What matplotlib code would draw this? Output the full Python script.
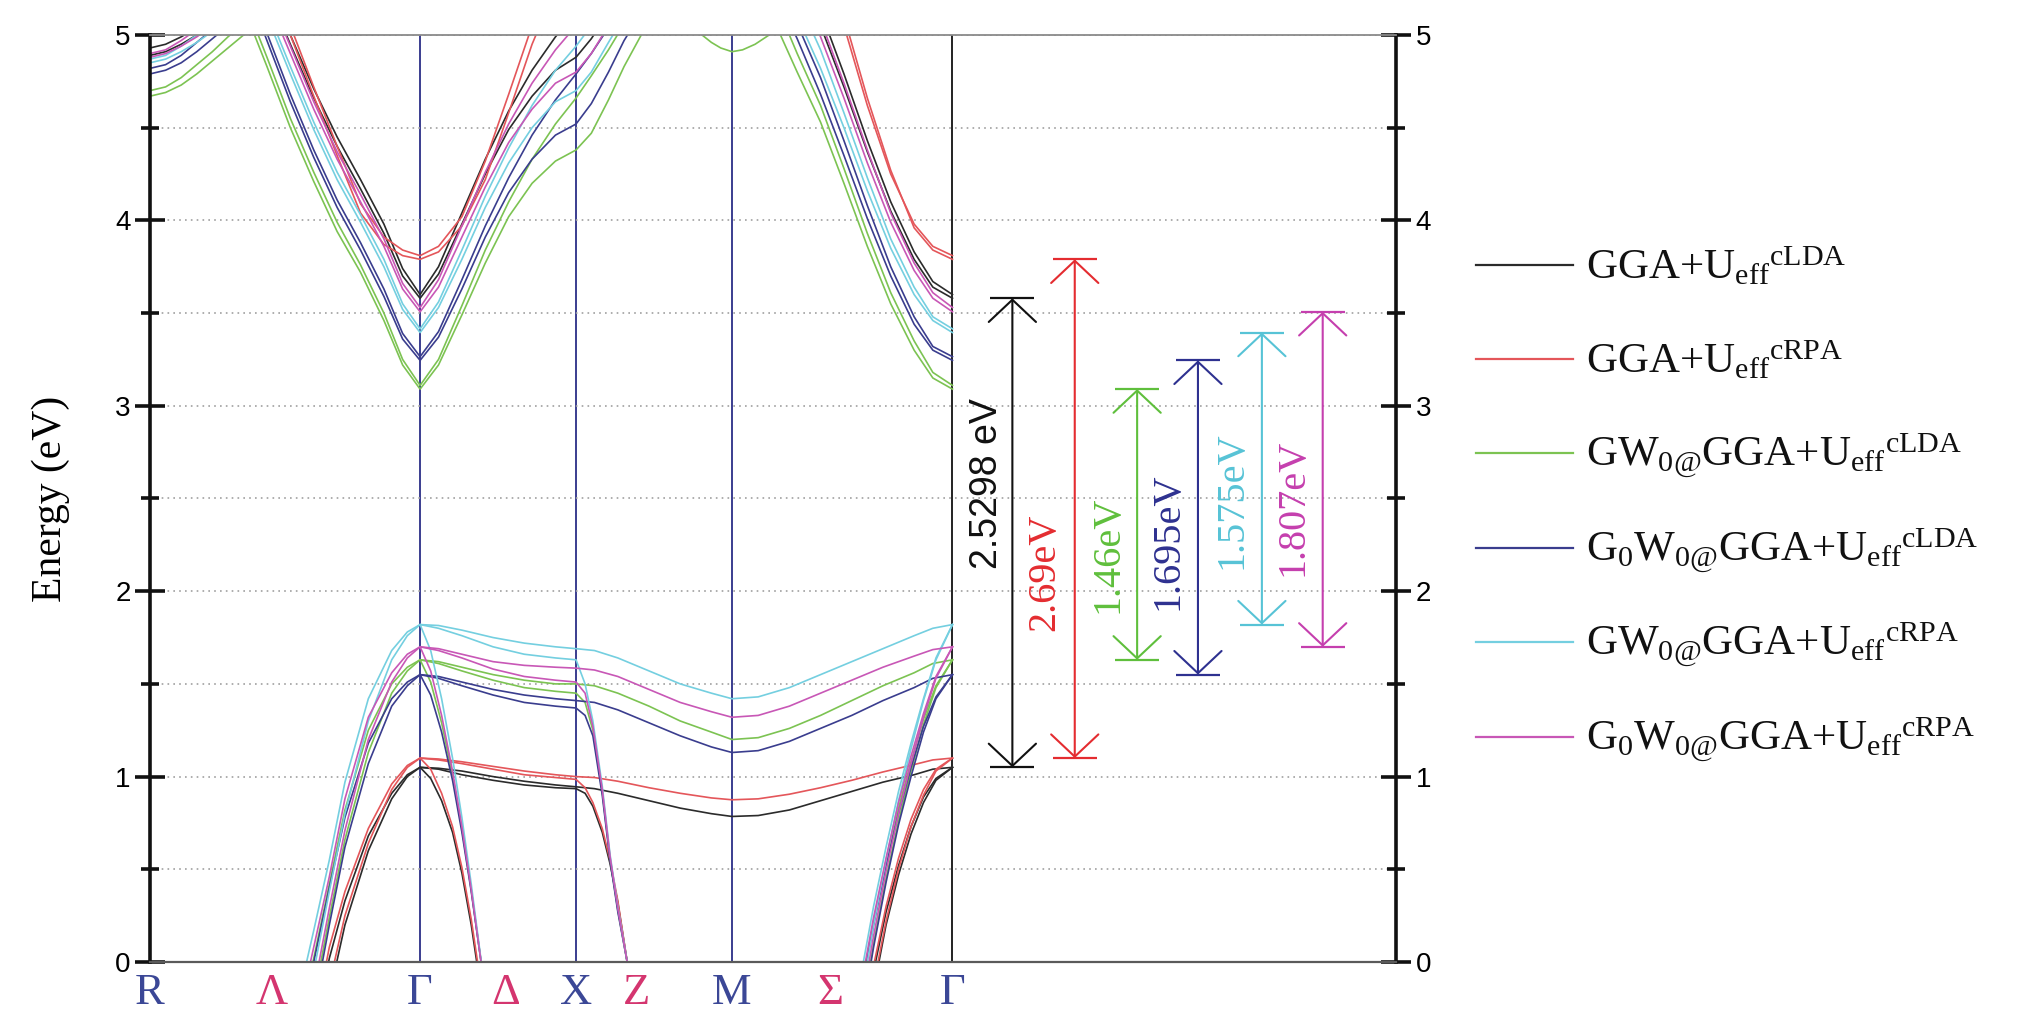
import matplotlib
matplotlib.use("Agg")
import matplotlib.pyplot as plt
from matplotlib.lines import Line2D
from matplotlib.ticker import MultipleLocator

plt.rcParams["mathtext.fontset"] = "custom"
plt.rcParams["mathtext.rm"] = "Liberation Serif"
plt.rcParams["mathtext.it"] = "Liberation Serif:italic"
plt.rcParams["mathtext.bf"] = "Liberation Serif:bold"

SERIF = ["Liberation Serif", "DejaVu Serif"]
SANS = ["Liberation Sans", "DejaVu Sans"]

# ---------------------------------------------------------------- methods
methods = [
    r"GGA+U$_{\mathrm{eff}}{}^{\mathrm{cLDA}}$",
    r"GGA+U$_{\mathrm{eff}}{}^{\mathrm{cRPA}}$",
    r"GW$_{\mathrm{0@}}$GGA+U$_{\mathrm{eff}}{}^{\mathrm{cLDA}}$",
    r"G$_{\mathrm{0}}$W$_{\mathrm{0@}}$GGA+U$_{\mathrm{eff}}{}^{\mathrm{cLDA}}$",
    r"GW$_{\mathrm{0@}}$GGA+U$_{\mathrm{eff}}{}^{\mathrm{cRPA}}$",
    r"G$_{\mathrm{0}}$W$_{\mathrm{0@}}$GGA+U$_{\mathrm{eff}}{}^{\mathrm{cRPA}}$",
]
band_colors = ["#2b2b2b", "#e4565a", "#7cc352", "#3a3d8e", "#74cfe0", "#c857b6"]
arrow_colors = ["#111111", "#e42c30", "#5fbf3c", "#2e3190", "#57c3d6", "#c53fae"]

# ---------------------------------------------------------------- k-path
kpath_labels = ["R", "Λ", "Γ", "Δ", "X", "Z", "M", "Σ", "Γ"]
kpath_pos = [0.0, 0.78, 1.732, 2.28, 2.732, 3.12, 3.732, 4.36, 5.146]
kpath_colors = ["#3b4796", "#d4356f", "#3b4796", "#d4356f", "#3b4796",
                "#d4356f", "#3b4796", "#d4356f", "#3b4796"]
node_k = [1.732, 2.732, 3.732]
node_end_k = 5.146
k_max = 7.99

# ---------------------------------------------------------------- gaps (eV)
vbm = [1.05, 1.10, 1.63, 1.55, 1.82, 1.70]
gap = [2.5298, 2.69, 1.46, 1.695, 1.575, 1.807]
arrow_k = [5.53, 5.93, 6.33, 6.72, 7.13, 7.52]
gap_text = ["2.5298 eV", "2.69eV", "1.46eV", "1.695eV", "1.575eV", "1.807eV"]
gap_label_y = [2.58, 2.10, 2.20, 2.27, 2.49, 2.45]

# ---------------------------------------------------------------- valence bands
# order of rows: black, red, green, blue, cyan, magenta
k_vb1 = [0.95, 1.05, 1.15, 1.25, 1.4, 1.55, 1.65, 1.732, 1.85, 2.0, 2.2, 2.4, 2.6,
         2.732, 2.85, 3.0, 3.2, 3.4, 3.6, 3.732, 3.9, 4.1, 4.3, 4.5, 4.7, 4.9,
         5.02, 5.146]
e_vb1 = [
    [-0.85, -0.4, 0.02, 0.33, 0.68, 0.91, 1.01, 1.05, 1.045, 1.03, 1.00, 0.975, 0.955,
     0.945, 0.935, 0.91, 0.87, 0.83, 0.80, 0.785, 0.79, 0.82, 0.87, 0.92, 0.97, 1.01,
     1.04, 1.05],
    [-0.8, -0.35, 0.08, 0.38, 0.72, 0.96, 1.06, 1.10, 1.095, 1.08, 1.055, 1.03, 1.01,
     1.00, 0.995, 0.975, 0.94, 0.91, 0.885, 0.875, 0.88, 0.905, 0.94, 0.98, 1.025, 1.065,
     1.09, 1.10],
    [-0.35, 0.02, 0.42, 0.82, 1.25, 1.50, 1.59, 1.63, 1.62, 1.59, 1.55, 1.52, 1.50,
     1.50, 1.49, 1.45, 1.38, 1.30, 1.24, 1.20, 1.21, 1.26, 1.33, 1.41, 1.49, 1.56,
     1.61, 1.63],
    [-0.38, 0.0, 0.40, 0.78, 1.18, 1.42, 1.51, 1.55, 1.54, 1.51, 1.47, 1.44, 1.42,
     1.41, 1.40, 1.36, 1.29, 1.22, 1.16, 1.13, 1.14, 1.19, 1.26, 1.33, 1.41, 1.48,
     1.53, 1.55],
    [-0.2, 0.17, 0.55, 0.97, 1.42, 1.68, 1.78, 1.82, 1.815, 1.79, 1.75, 1.72, 1.70,
     1.69, 1.68, 1.64, 1.57, 1.50, 1.45, 1.42, 1.43, 1.48, 1.55, 1.62, 1.69, 1.76,
     1.80, 1.82],
    [-0.3, 0.08, 0.46, 0.88, 1.32, 1.56, 1.66, 1.70, 1.69, 1.66, 1.62, 1.60, 1.59,
     1.585, 1.575, 1.54, 1.47, 1.40, 1.35, 1.32, 1.33, 1.38, 1.45, 1.52, 1.59, 1.65,
     1.685, 1.70],
]

k_vb2 = [0.95, 1.05, 1.15, 1.25, 1.4, 1.55, 1.65, 1.732, 1.85, 2.0, 2.2, 2.4, 2.6,
         2.732, 2.79, 2.84, 2.90, 2.95, 3.0, 3.06, 3.12]
e_vb2 = [
    [-1.15, -0.65, -0.18, 0.2, 0.60, 0.88, 1.00, 1.05, 1.04, 1.01, 0.98, 0.955, 0.94,
     0.935, 0.91, 0.84, 0.70, 0.53, 0.32, 0.0, -0.4],
    [-1.1, -0.6, -0.12, 0.25, 0.64, 0.93, 1.05, 1.10, 1.09, 1.07, 1.04, 1.01, 0.995,
     0.985, 0.94, 0.86, 0.72, 0.55, 0.33, 0.0, -0.4],
    [-0.65, -0.2, 0.24, 0.66, 1.13, 1.45, 1.57, 1.63, 1.61, 1.57, 1.52, 1.48, 1.46,
     1.45, 1.40, 1.25, 0.92, 0.56, 0.28, 0.0, -0.4],
    [-0.7, -0.25, 0.20, 0.62, 1.07, 1.38, 1.49, 1.55, 1.53, 1.49, 1.44, 1.40, 1.38,
     1.37, 1.33, 1.22, 0.90, 0.55, 0.27, 0.0, -0.4],
    [-0.5, -0.05, 0.38, 0.80, 1.30, 1.63, 1.76, 1.82, 1.80, 1.76, 1.70, 1.66, 1.64,
     1.63, 1.50, 1.30, 0.95, 0.58, 0.30, 0.0, -0.4],
    [-0.6, -0.15, 0.29, 0.71, 1.20, 1.51, 1.64, 1.70, 1.68, 1.64, 1.58, 1.54, 1.52,
     1.51, 1.45, 1.27, 0.93, 0.57, 0.29, 0.0, -0.4],
]

k_vb_delta = [1.732, 1.8, 1.87, 1.94, 2.0, 2.06, 2.12, 2.18]
e_vb_delta = [
    [1.05, 0.99, 0.87, 0.70, 0.48, 0.20, -0.14, -0.5],
    [1.10, 1.04, 0.91, 0.73, 0.51, 0.23, -0.11, -0.5],
    [1.63, 1.51, 1.29, 1.01, 0.72, 0.39, 0.02, -0.4],
    [1.55, 1.44, 1.24, 0.98, 0.70, 0.38, 0.02, -0.4],
    [1.82, 1.68, 1.42, 1.10, 0.78, 0.42, 0.03, -0.4],
    [1.70, 1.57, 1.33, 1.03, 0.73, 0.39, 0.02, -0.4],
]

k_vb_sigma = [4.5, 4.57, 4.64, 4.72, 4.8, 4.88, 4.96, 5.04, 5.146]
e_vb_sigma1 = [
    [-0.8, -0.42, -0.05, 0.27, 0.52, 0.73, 0.89, 0.99, 1.05],
    [-0.75, -0.38, -0.02, 0.30, 0.56, 0.77, 0.93, 1.04, 1.10],
    [-0.42, -0.1, 0.22, 0.54, 0.83, 1.08, 1.31, 1.49, 1.63],
    [-0.45, -0.12, 0.20, 0.52, 0.80, 1.05, 1.27, 1.43, 1.55],
    [-0.35, -0.02, 0.30, 0.62, 0.92, 1.18, 1.42, 1.64, 1.82],
    [-0.4, -0.08, 0.24, 0.56, 0.86, 1.11, 1.34, 1.54, 1.70],
]
e_vb_sigma2 = [
    [-0.95, -0.55, -0.15, 0.2, 0.47, 0.69, 0.86, 0.98, 1.05],
    [-0.9, -0.5, -0.12, 0.22, 0.5, 0.73, 0.9, 1.03, 1.10],
    [-0.6, -0.25, 0.1, 0.45, 0.76, 1.03, 1.28, 1.48, 1.63],
    [-0.62, -0.27, 0.08, 0.43, 0.74, 1.0, 1.24, 1.42, 1.55],
    [-0.5, -0.15, 0.2, 0.55, 0.87, 1.15, 1.41, 1.63, 1.82],
    [-0.55, -0.2, 0.14, 0.49, 0.8, 1.07, 1.32, 1.53, 1.70],
]

# ---------------------------------------------------------------- conduction bands
k_cb = [0.6, 0.75, 0.9, 1.05, 1.2, 1.35, 1.5, 1.62, 1.732, 1.85, 2.0, 2.15, 2.3,
        2.45, 2.6, 2.732, 2.83, 2.94, 3.04, 3.15, 3.25]
e_cb1 = [
    [5.55, 5.25, 4.95, 4.66, 4.40, 4.17, 3.93, 3.70, 3.58, 3.71, 3.98, 4.25, 4.49,
     4.67, 4.81, 4.88, 4.98, 5.12, 5.27, 5.40, 5.55],
    [5.65, 5.33, 5.00, 4.67, 4.35, 4.04, 3.87, 3.81, 3.79, 3.83, 3.97, 4.22, 4.58,
     4.95, 5.25, 5.45, 5.6, 5.7, 5.8, 5.9, 6.0],
    [5.15, 4.83, 4.50, 4.21, 3.94, 3.72, 3.46, 3.22, 3.09, 3.22, 3.49, 3.77, 4.02,
     4.20, 4.32, 4.38, 4.47, 4.65, 4.83, 5.0, 5.15],
    [5.30, 4.97, 4.64, 4.34, 4.07, 3.84, 3.59, 3.36, 3.245, 3.37, 3.63, 3.91, 4.15,
     4.33, 4.46, 4.52, 4.63, 4.80, 4.97, 5.12, 5.25],
    [5.42, 5.10, 4.79, 4.49, 4.22, 3.99, 3.75, 3.52, 3.395, 3.53, 3.79, 4.07, 4.31,
     4.50, 4.64, 4.70, 4.80, 4.96, 5.10, 5.25, 5.40],
    [5.50, 5.20, 4.90, 4.60, 4.33, 4.10, 3.86, 3.63, 3.507, 3.64, 3.91, 4.18, 4.42,
     4.60, 4.74, 4.80, 4.90, 5.05, 5.20, 5.35, 5.50],
]
e_cb2 = [
    [5.60, 5.30, 5.00, 4.71, 4.45, 4.22, 3.98, 3.74, 3.60, 3.75, 4.04, 4.33, 4.59,
     4.81, 4.99, 5.12, 5.25, 5.40, 5.55, 5.70, 5.80],
    [5.70, 5.38, 5.05, 4.72, 4.40, 4.09, 3.91, 3.84, 3.81, 3.86, 4.02, 4.32, 4.68,
     5.05, 5.40, 5.60, 5.70, 5.80, 5.90, 6.00, 6.10],
    [5.20, 4.88, 4.55, 4.26, 3.99, 3.76, 3.50, 3.25, 3.11, 3.25, 3.54, 3.84, 4.10,
     4.33, 4.52, 4.66, 4.78, 4.92, 5.06, 5.20, 5.35],
    [5.34, 5.01, 4.68, 4.38, 4.11, 3.88, 3.63, 3.39, 3.265, 3.40, 3.68, 3.97, 4.23,
     4.46, 4.65, 4.79, 4.90, 5.04, 5.18, 5.30, 5.45],
    [5.46, 5.14, 4.83, 4.53, 4.26, 4.03, 3.79, 3.55, 3.415, 3.56, 3.84, 4.13, 4.39,
     4.62, 4.81, 4.94, 5.05, 5.20, 5.35, 5.50, 5.60],
    [5.54, 5.24, 4.94, 4.64, 4.37, 4.14, 3.90, 3.66, 3.53, 3.68, 3.97, 4.26, 4.52,
     4.74, 4.92, 5.05, 5.15, 5.30, 5.45, 5.60, 5.70],
]

k_cb_mg = [4.0, 4.15, 4.3, 4.45, 4.6, 4.75, 4.9, 5.02, 5.146]
e_cb1_mg = [
    [5.6, 5.33, 5.05, 4.72, 4.37, 4.05, 3.79, 3.64, 3.58],
    [5.9, 5.7, 5.55, 5.1, 4.66, 4.27, 3.96, 3.84, 3.79],
    [5.08, 4.80, 4.53, 4.20, 3.86, 3.55, 3.30, 3.15, 3.09],
    [5.25, 4.98, 4.68, 4.35, 4.01, 3.70, 3.44, 3.30, 3.245],
    [5.4, 5.1, 4.82, 4.50, 4.16, 3.85, 3.60, 3.46, 3.395],
    [5.55, 5.27, 4.99, 4.66, 4.31, 3.99, 3.73, 3.58, 3.507],
]
e_cb2_mg = [
    [5.7, 5.42, 5.13, 4.79, 4.43, 4.10, 3.83, 3.67, 3.60],
    [6.0, 5.8, 5.5, 5.05, 4.62, 4.25, 3.98, 3.86, 3.81],
    [5.2, 4.9, 4.62, 4.28, 3.93, 3.61, 3.35, 3.18, 3.11],
    [5.35, 5.06, 4.77, 4.43, 4.08, 3.75, 3.48, 3.32, 3.265],
    [5.5, 5.2, 4.92, 4.58, 4.23, 3.90, 3.64, 3.48, 3.415],
    [5.65, 5.37, 5.08, 4.74, 4.38, 4.04, 3.77, 3.61, 3.53],
]

k_cb_r = [0.0, 0.1, 0.2, 0.3, 0.4, 0.5, 0.6]
e_cb_r1 = [
    [4.93, 4.95, 4.99, 5.04, 5.1, 5.15, 5.2],
    [5.03, 5.05, 5.09, 5.14, 5.2, 5.25, 5.3],
    [4.70, 4.72, 4.77, 4.84, 4.91, 4.99, 5.06],
    [4.82, 4.84, 4.89, 4.96, 5.03, 5.1, 5.15],
    [4.87, 4.89, 4.94, 5.0, 5.07, 5.13, 5.2],
    [4.90, 4.92, 4.97, 5.03, 5.09, 5.15, 5.2],
]
e_cb_r2 = [
    [4.89, 4.91, 4.95, 5.0, 5.06, 5.12, 5.18],
    [5.01, 5.03, 5.07, 5.12, 5.18, 5.23, 5.28],
    [4.67, 4.69, 4.73, 4.79, 4.86, 4.93, 5.0],
    [4.79, 4.81, 4.85, 4.91, 4.98, 5.05, 5.1],
    [4.85, 4.87, 4.91, 4.96, 5.02, 5.08, 5.14],
    [4.88, 4.9, 4.94, 4.99, 5.05, 5.11, 5.16],
]

# band of the GW0 (cLDA) set dipping below 5 eV around M
k_cb_m = [3.54, 3.6, 3.66, 3.732, 3.8, 3.88, 3.97]
e_cb_m = [5.0, 4.96, 4.93, 4.91, 4.92, 4.95, 5.0]

# ---------------------------------------------------------------- figure
W, H = 2030, 1013
fig = plt.figure(figsize=(W / 100, H / 100), dpi=100)
ax_left, ax_right, ax_top, ax_bottom = 150, 1396, 35, 962
ax = fig.add_axes([ax_left / W, 1 - ax_bottom / H,
                   (ax_right - ax_left) / W, (ax_bottom - ax_top) / H])
ax.set_xlim(0, k_max)
ax.set_ylim(0, 5)

# high-symmetry verticals
for k in node_k:
    ax.axvline(k, color="#3a3d8f", lw=1.4, zorder=1)
ax.axvline(node_end_k, color="#111111", lw=1.3, zorder=1)

band_lw = 1.2
families = [
    (k_vb1, e_vb1), (k_vb2, e_vb2), (k_vb_delta, e_vb_delta),
    (k_vb_sigma, e_vb_sigma1), (k_vb_sigma, e_vb_sigma2),
    (k_cb, e_cb1), (k_cb, e_cb2), (k_cb_mg, e_cb1_mg), (k_cb_mg, e_cb2_mg),
    (k_cb_r, e_cb_r1), (k_cb_r, e_cb_r2),
]
for i in range(len(methods)):
    for k_grid, rows in families:
        ax.plot(k_grid, rows[i], color=band_colors[i], lw=band_lw, zorder=2,
                solid_joinstyle="round")
ax.plot(k_cb_m, e_cb_m, color=band_colors[2], lw=band_lw, zorder=2)

# band-gap arrows
for i in range(len(methods)):
    x = arrow_k[i]
    lo, hi = vbm[i], vbm[i] + gap[i]
    ax.annotate("", xy=(x, hi), xytext=(x, lo),
                arrowprops=dict(arrowstyle="<->,head_length=0.8,head_width=0.85",
                                color=arrow_colors[i], lw=1.5, shrinkA=0, shrinkB=0,
                                mutation_scale=20),
                zorder=4)
    ax.plot([x, x], [lo, hi], ls="none", marker="_", ms=31, mew=1.6,
            color=arrow_colors[i], zorder=4)

# gap values next to the arrows
ax.text(arrow_k[0] - 0.16, gap_label_y[0], gap_text[0], rotation=90,
        ha="center", va="center", fontsize=27, family=SANS, color=arrow_colors[0])
for i in range(1, len(methods)):
    ax.text(arrow_k[i] - 0.19, gap_label_y[i], gap_text[i], rotation=90,
            ha="center", va="center", fontsize=29, family=SERIF,
            color=arrow_colors[i])

# axes styling
for side in ("left", "right"):
    ax.spines[side].set_linewidth(2.6)
    ax.spines[side].set_color("#111111")
ax.spines["top"].set_color("#8a8a8a")
ax.spines["top"].set_linewidth(1.3)
ax.spines["bottom"].set_color("#5a5a5a")
ax.spines["bottom"].set_linewidth(1.6)

ax.yaxis.set_major_locator(MultipleLocator(1))
ax.yaxis.set_minor_locator(MultipleLocator(0.5))
ax.tick_params(axis="y", which="both", direction="inout", left=True, right=True,
               labelleft=True, labelright=True, width=2.6, color="#111111")
ax.tick_params(axis="y", which="major", length=22, pad=3, labelsize=20)
ax.tick_params(axis="y", which="minor", length=13)
for lab in ax.get_yticklabels():
    lab.set_family(SANS)
ax.grid(axis="y", which="both", ls=(0, (1, 2.5)), color="#a0a0a0", lw=1.2, zorder=0)

ax.set_xticks(kpath_pos)
ax.set_xticklabels(kpath_labels, family=SERIF, fontsize=32)
for lab, c in zip(ax.get_xticklabels(), kpath_colors):
    lab.set_color(c)
ax.tick_params(axis="x", which="both", length=0, pad=8)

ax.set_ylabel("Energy (eV)", family=SERIF, fontsize=30)
ax.yaxis.set_label_coords(-0.064, 0.5)

# legend
leg_x0, leg_x1, leg_tx = 1476 / W, 1573 / W, 1586 / W
leg_y = [265, 359, 453, 548, 642, 737]
for i, label in enumerate(methods):
    yf = 1 - leg_y[i] / H
    fig.add_artist(Line2D([leg_x0, leg_x1], [yf, yf], color=band_colors[i], lw=1.6,
                          transform=fig.transFigure))
    fig.text(leg_tx, yf - 14 / H, label, family=SERIF, fontsize=31,
             va="baseline", ha="left", color="#111111")

fig.savefig("out.png", dpi=100, facecolor="white")
